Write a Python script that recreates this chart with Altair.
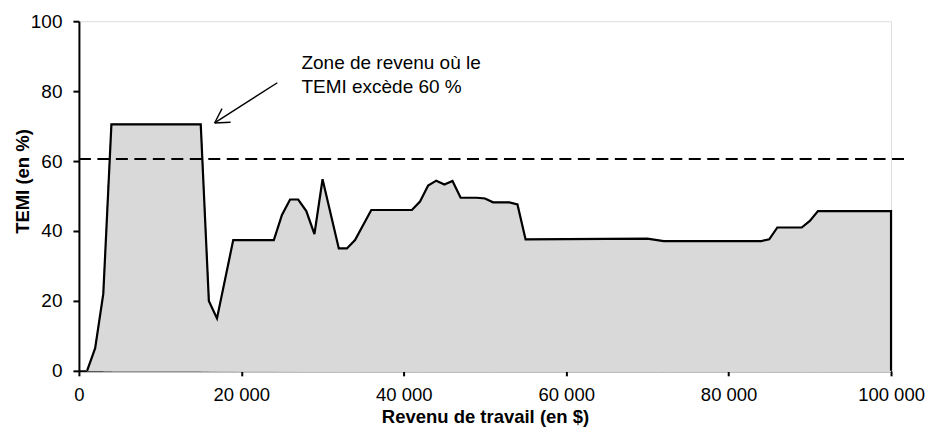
import altair as alt
import pandas as pd

# Revenu de travail (en milliers de $) and TEMI (%)
revenu_k = [1, 2, 3, 4, 15, 16, 17, 19, 24, 25, 26, 27, 28, 29, 30, 32, 33, 34, 36, 41,
            42, 43, 44, 45, 46, 47, 49, 50, 51, 53, 54, 55, 70, 72, 84, 85, 86, 89, 90, 91, 100]
temi = [0, 6.5, 22, 70.5, 70.5, 20, 15, 37.4, 37.4, 44.6, 49, 49, 45.7, 39.1, 54.8, 35, 35,
        37.4, 46, 46, 48.4, 53, 54.4, 53.3, 54.3, 49.5, 49.5, 49.3, 48.2, 48.2, 47.6, 37.6,
        37.8, 37.1, 37.1, 37.6, 41, 41, 42.9, 45.7, 45.7]

seuil = 60.6
seuil_x = [0, 101700]

x_ticks = [0, 20000, 40000, 60000, 80000, 100000]
y_ticks = [0, 20, 40, 60, 80, 100]

annot_lines = ["Zone de revenu où le", "TEMI excède 60 %"]
annot_x = [27400, 27400]
annot_y = [86.2, 79.4]

# arrow segments (data units): shaft and two head wings
arrow_x1 = [24430, 16710, 16710]
arrow_y1 = [82.4, 70.9, 70.9]
arrow_x2 = [16710, 17620, 18680]
arrow_y2 = [70.9, 75.0, 71.1]

FONT = "Arial, Liberation Sans, sans-serif"

df = pd.DataFrame({"x": [v * 1000 for v in revenu_k], "y": temi})
df["o"] = range(len(df))
df_line = pd.concat([df, pd.DataFrame({"x": [100000], "y": [0], "o": [len(df)]})],
                    ignore_index=True)

xscale = alt.Scale(domain=[0, 100000], nice=False)
yscale = alt.Scale(domain=[0, 100], nice=False)

xaxis = alt.Axis(values=x_ticks, grid=False, domainColor="black", domainWidth=2,
                 tickColor="black", tickWidth=2, tickSize=5, labelFont=FONT,
                 labelFontSize=18.5, labelColor="black", labelPadding=10,
                 labelExpr="replace(format(datum.value, ','), ',', ' ')",
                 labelOverlap=False, labelFlush=False,
                 title="Revenu de travail (en $)", titleFont=FONT, titleFontSize=18.5,
                 titleFontWeight="bold", titleColor="black", titleY=52,
                 titleBaseline="alphabetic")
yaxis = alt.Axis(values=y_ticks, grid=False, domainColor="black", domainWidth=2,
                 tickColor="black", tickWidth=2, tickSize=6, labelFont=FONT,
                 labelFontSize=19, labelColor="black", labelPadding=11,
                 title="TEMI (en %)", titleFont=FONT, titleFontSize=18.5,
                 titleFontWeight="bold", titleColor="black", titleX=-56.5, titleY=160,
                 titleBaseline="middle", titleAngle=-90)

area = alt.Chart(df).mark_area(color="#d9d9d9", opacity=1, stroke="#d9d9d9", strokeWidth=0.5).encode(
    x=alt.X("x:Q", scale=xscale, axis=xaxis),
    y=alt.Y("y:Q", scale=yscale, axis=yaxis),
    order="o:Q",
)
area2 = alt.Chart(df).mark_area(color="#d9d9d9", opacity=1).encode(
    x=alt.X("x:Q", scale=xscale),
    y=alt.Y("y:Q", scale=yscale),
    order="o:Q",
)
line = alt.Chart(df_line).mark_line(color="black", strokeWidth=2.2).encode(
    x=alt.X("x:Q", scale=xscale),
    y=alt.Y("y:Q", scale=yscale),
    order="o:Q",
)
rule = alt.Chart(pd.DataFrame({"x": [seuil_x[0]], "x2": [seuil_x[1]], "y": [seuil]})).mark_rule(
    color="black", strokeWidth=2, strokeDash=[12, 6.5], clip=False
).encode(x=alt.X("x:Q", scale=xscale), x2="x2:Q", y=alt.Y("y:Q", scale=yscale))

arrow = alt.Chart(pd.DataFrame({"x": arrow_x1, "y": arrow_y1, "x2": arrow_x2, "y2": arrow_y2})).mark_rule(
    color="black", strokeWidth=1.4
).encode(x=alt.X("x:Q", scale=xscale), y=alt.Y("y:Q", scale=yscale), x2="x2:Q", y2="y2:Q")

text = alt.Chart(pd.DataFrame({"t": annot_lines, "x": annot_x, "y": annot_y})).mark_text(
    align="left", baseline="alphabetic", font=FONT, fontSize=19, color="black"
).encode(x=alt.X("x:Q", scale=xscale), y=alt.Y("y:Q", scale=yscale), text="t:N")

chart = alt.layer(area, area2, line, rule, arrow, text).properties(
    width=813, height=350,
    autosize=alt.AutoSizeParams(type="none"),
    padding={"left": 71, "top": 13, "right": 34, "bottom": 56},
).configure_view(stroke=None).configure(background="white")

chart.save("out.html", embed_options={"renderer": "svg", "actions": False})
